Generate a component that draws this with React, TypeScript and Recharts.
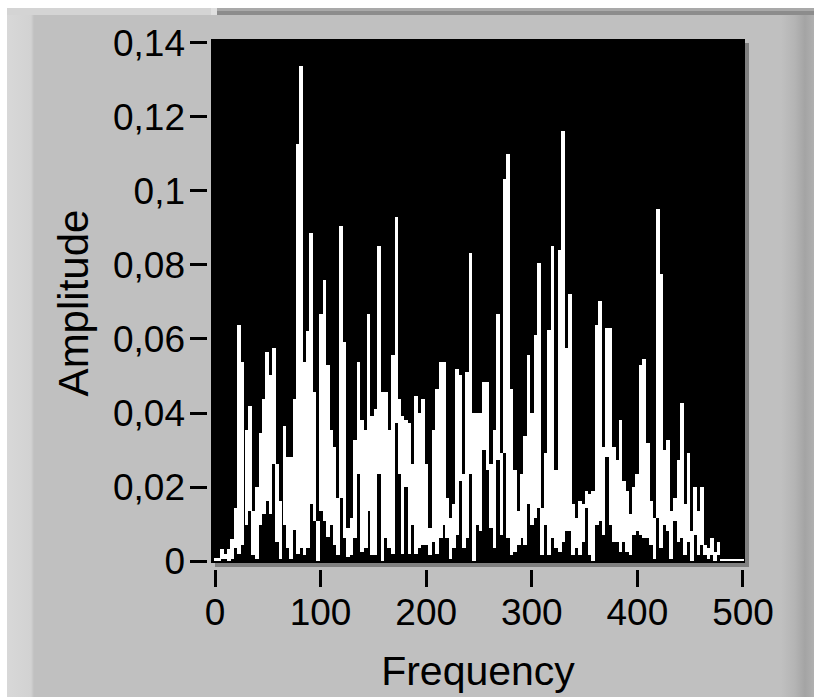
import React from 'react';
import { ComposedChart, Bar, XAxis, YAxis, CartesianGrid, Label } from 'recharts';

// Frequency of each plotted column (Hz)
const frequencies = [
  0.6, 3.8, 6.9, 10.1, 13.3, 16.4, 19.6, 22.7, 26.2, 30, 33.1, 36.3, 39.8, 43.2, 46.4, 49.5, 52.7, 55.9, 59, 62.2,
  66, 69.4, 72.3, 75.4, 78.6, 81.8, 84.9, 88.1, 91.2, 94.4, 97.5, 100.7, 103.9, 107, 110.2, 113.3, 116.5, 119.6,
  122.8, 126, 129.4, 132.9, 136, 139.6, 142.8, 145.5, 148.7, 152.2, 155.6, 158.8, 161.9, 165.1, 168.6, 172, 174.9,
  177.7, 180.9, 184.3, 187.8, 190.7, 193.8, 197.3, 200.4, 203.6, 207.1, 210.5, 214, 217.2, 220, 223.2, 226.3,
  229.5, 232.7, 235.8, 238.9, 242.1, 245.3, 248.4, 251.6, 254.7, 258.2, 261.7, 264.8, 268, 271.5, 274.9, 277.8,
  280.9, 284.4, 287.9, 291, 293.9, 297, 300.2, 303.7, 307.1, 310, 313.1, 316.6, 319.8, 323.2, 326.7, 329.9, 333,
  336.2, 339.3, 342.5, 345.6, 348.8, 351.9, 355.1, 358.3, 361.7, 364.9, 368, 371.5, 374.7, 377.8, 381, 384.2,
  387.3, 390.5, 393.6, 396.8, 399.9, 403.1, 406.6, 410, 413.2, 416.4, 419.5, 422.7, 425.8, 429, 432.1, 435.6,
  439.1, 442.2, 445.4, 448.5, 451.7, 454.8, 458, 461.2, 464.3, 467.5, 470.6, 473.8, 477, 480.1, 483.3, 486.4,
  489.6, 492.7, 495.9, 499.1,
];

// Lowest amplitude reached by the trace within each column
const lowValues = [
  0, 0, 0.0006, 0.0006, 0, 0.0006, 0.0034, 0.002, 0.0043, 0.0098, 0.0135, 0.0016, 0.0006, 0.0098, 0.0126, 0.0162,
  0.0126, 0.0263, 0.0052, 0.0006, 0.0098, 0.0034, 0.0006, 0.0084, 0.002, 0.0034, 0.0016, 0.0034, 0.0153, 0.0107,
  0, 0.0135, 0.0107, 0.0066, 0.0098, 0.0043, 0.0016, 0.0171, 0.0061, 0.0011, 0.0016, 0.0061, 0.0236, 0.0025,
  0.0034, 0.0135, 0.0016, 0.0016, 0.0236, 0, 0.0061, 0.0034, 0.002, 0.0373, 0.0236, 0.002, 0.0199, 0.002,
  0.0098, 0.002, 0.0034, 0.0043, 0.0043, 0.0016, 0.0052, 0.002, 0.0061, 0.0098, 0.0061, 0.0006, 0.0034, 0.0071,
  0.0217, 0.0034, 0.0061, 0.0236, 0, 0.0098, 0.008, 0.03, 0.0245, 0.0089, 0.0034, 0.0272, 0.0071, 0.0291, 0.0061,
  0.0016, 0.0025, 0.0043, 0.0061, 0.0043, 0.0153, 0.0098, 0.0116, 0.0144, 0.0016, 0.0098, 0.0016, 0.0061, 0.0034,
  0.0025, 0.0052, 0.008, 0.008, 0.0016, 0.0034, 0.0016, 0.0052, 0.0144, 0.0016, 0, 0.0098, 0.0107, 0.0071, 0.0281,
  0.0098, 0.0052, 0.0052, 0.0025, 0.0052, 0.0025, 0.0016, 0.0071, 0.008, 0.0071, 0.0061, 0.0061, 0.0043, 0.0006,
  0.0116, 0.0034, 0.0098, 0.008, 0.0006, 0.0107, 0.0052, 0.0061, 0.0016, 0.0052, 0, 0.0071, 0.0016, 0.0043,
  0.0016, 0.0006, 0.0016, 0, 0.0016, 0, 0, 0, 0, 0, 0, 0,
];

// Highest amplitude reached by the trace within each column
const highValues = [
  0.0007, 0.0007, 0.0032, 0.002, 0.0032, 0.006, 0.0144, 0.0637, 0.0538, 0.0355, 0.0419, 0.0135, 0.0199, 0.0346,
  0.0437, 0.0566, 0.0502, 0.0575, 0.0263, 0.0162, 0.0364, 0.0281, 0.0281, 0.0437, 0.1127, 0.1338, 0.0538, 0.0621,
  0.0887, 0.0456, 0.0107, 0.0668, 0.076, 0.0531, 0.0355, 0.0309, 0.0171, 0.0905, 0.0593, 0.0089, 0.0116, 0.0327,
  0.0538, 0.0382, 0.0355, 0.0668, 0.0392, 0.041, 0.0852, 0.0456, 0.0456, 0.0355, 0.0557, 0.0929, 0.0437, 0.0392,
  0.0382, 0.0373, 0.0263, 0.0447, 0.0401, 0.0437, 0.0263, 0.0089, 0.0355, 0.0465, 0.0538, 0.0538, 0.0171, 0.0116,
  0.0153, 0.052, 0.0502, 0.0236, 0.0511, 0.0832, 0.0401, 0.0401, 0.0401, 0.0483, 0.0483, 0.0263, 0.0355, 0.0668,
  0.0291, 0.1033, 0.11, 0.0465, 0.0245, 0.0135, 0.0236, 0.0337, 0.0557, 0.0401, 0.0612, 0.0806, 0.0144, 0.0291,
  0.0623, 0.0852, 0.0245, 0.0841, 0.1162, 0.0577, 0.0722, 0.0153, 0.0116, 0.0162, 0.0153, 0.019, 0.0181, 0.019,
  0.0639, 0.0703, 0.0309, 0.063, 0.063, 0.0309, 0.0272, 0.0382, 0.0217, 0.019, 0.0126, 0.0199, 0.0236, 0.0529,
  0.0547, 0.0318, 0.0162, 0.0116, 0.0951, 0.0777, 0.03, 0.0327, 0.0135, 0.0171, 0.0272, 0.0426, 0.0153, 0.0291,
  0.008, 0.0199, 0.0135, 0.0199, 0.0043, 0.0034, 0.0061, 0.0025, 0.0052, 0.0006, 0.0006, 0.0006, 0.0006, 0.0006,
  0.0006, 0.0006,
];

const xTicks = [0, 100, 200, 300, 400, 500];
const yTicks = [0, 0.02, 0.04, 0.06, 0.08, 0.1, 0.12, 0.14];
const xTitle = 'Frequency';
const yTitle = 'Amplitude';

const data = frequencies.map((f, i) => ({ f, range: [lowValues[i], highValues[i]] }));

const FONT = '"Liberation Sans", Arial, sans-serif';
const fmt = (v: number) => String(v).replace('.', ',');

const YTick = (props: any) => {
  const { x, y, payload } = props;
  return (
    <g>
      <line x1={x - 21} x2={x - 4} y1={y} y2={y} stroke="#000" strokeWidth={3} shapeRendering="crispEdges" />
      <text x={x - 26} y={y} dy={13} textAnchor="end" fontSize={37} fontFamily={FONT} fill="#000">
        {fmt(payload.value)}
      </text>
    </g>
  );
};

const XTick = (props: any) => {
  const { x, y, payload } = props;
  return (
    <g>
      <line x1={x} x2={x} y1={y + 7} y2={y + 24} stroke="#000" strokeWidth={3} shapeRendering="crispEdges" />
      <text x={x} y={y + 62} textAnchor="middle" fontSize={37} fontFamily={FONT} fill="#000">
        {fmt(payload.value)}
      </text>
    </g>
  );
};

const ColumnShape = (props: any) => {
  const { x, y, width, height } = props;
  if (x == null || y == null) return null;
  const cx = x + width / 2;
  const top = Math.min(y, y + height);
  const h = Math.max(Math.abs(height), 1.5);
  return <rect x={cx - 1.9} y={top} width={3.8} height={h} fill="#fff" shapeRendering="crispEdges" />;
};

export default function App() {
  return (
    <div style={{ position: 'absolute', left: 0, top: 0, width: 814, height: 697, background: '#fff', overflow: 'hidden' }}>
      <div style={{ position: 'absolute', left: 7, top: 8, width: 204, height: 7, background: '#d4d4d4' }} />
      <div style={{ position: 'absolute', left: 211, top: 8, width: 6, height: 7, background: '#e0e0e0' }} />
      <div style={{ position: 'absolute', left: 217, top: 8, width: 597, height: 3, background: '#a9a9a9' }} />
      <div style={{ position: 'absolute', left: 217, top: 11, width: 597, height: 4, background: '#8c8c8c' }} />
      <div
        style={{
          position: 'absolute',
          left: 7,
          top: 15,
          width: 807,
          height: 682,
          background:
            'linear-gradient(to right, #d8d8d8 0px, #d2d2d2 24px, #c0c0c0 27px, #c0c0c0 774px, #b4b4b4 788px, #a4a4a4 798px, #b0b0b0 807px)',
        }}
      />
      <div style={{ position: 'absolute', left: 215, top: 43, width: 534, height: 524, background: '#808080' }} />
      <div style={{ position: 'absolute', left: 0, top: 0 }}>
        <ComposedChart width={814} height={697} data={data} margin={{ top: 39, right: 69, bottom: 0, left: 0 }}>
          <CartesianGrid fill="#000" fillOpacity={1} stroke="none" horizontal={false} vertical={false} />
          <XAxis
            type="number"
            dataKey="f"
            domain={[-3.79, 501.9]}
            ticks={xTicks}
            allowDataOverflow
            height={134}
            tickSize={0}
            tickMargin={0}
            axisLine={false}
            tickLine={false}
            tick={<XTick />}
            interval={0}
          >
            <Label
              value={xTitle}
              content={() => (
                <text x={478} y={685} textAnchor="middle" fontSize={41} fontFamily={FONT} fill="#000">
                  {xTitle}
                </text>
              )}
            />
          </XAxis>
          <YAxis
            type="number"
            domain={[-0.00054, 0.14108]}
            ticks={yTicks}
            allowDataOverflow
            width={211}
            tickSize={0}
            tickMargin={0}
            axisLine={false}
            tickLine={false}
            tick={<YTick />}
            interval={0}
          >
            <Label
              value={yTitle}
              content={() => (
                <text
                  x={88}
                  y={303}
                  transform="rotate(-90 88 303)"
                  textAnchor="middle"
                  fontSize={42}
                  fontFamily={FONT}
                  fill="#000"
                >
                  {yTitle}
                </text>
              )}
            />
          </YAxis>
          <Bar dataKey="range" fill="#fff" shape={<ColumnShape />} isAnimationActive={false} />
        </ComposedChart>
      </div>
    </div>
  );
}
